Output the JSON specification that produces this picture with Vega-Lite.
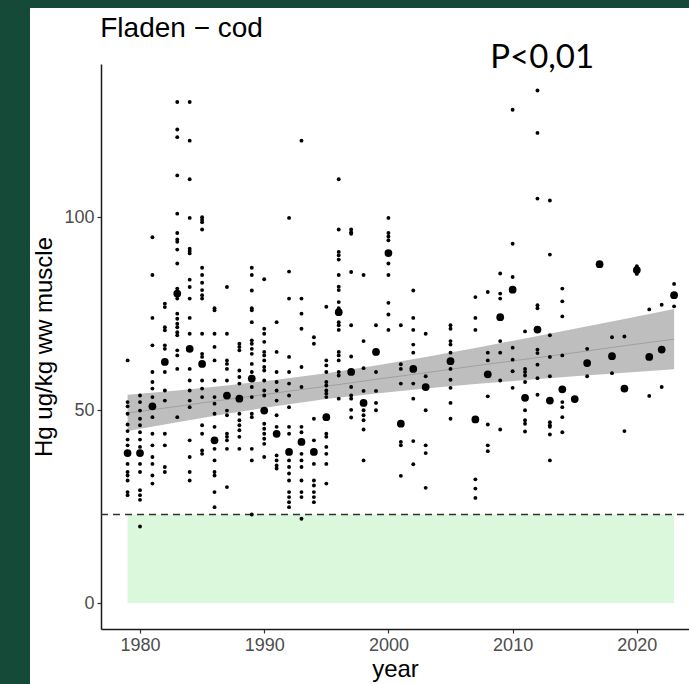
{
"$schema": "https://vega.github.io/schema/vega-lite/v6.json",
"width": 659,
"height": 676,
"autosize": {"type": "none"},
"padding": {"left": 30, "top": 8, "right": 0, "bottom": 0},
"background": "#154a38",
"view": {"fill": "white", "stroke": null},
"config": {"font": "Liberation Sans",
 "axis": {"grid": false, "domainColor": "#1a1a1a", "domainWidth": 1.5, "tickColor": "#333333", "tickWidth": 1.2, "tickSize": 4, "labelFontSize": 18, "labelColor": "#4d4d4d", "labelFont": "Liberation Sans", "titleFontSize": 24, "titleFontWeight": "normal", "titleColor": "black", "titleFont": "Liberation Sans", "labelPadding": 3}},
"datasets": {
 "zone": [{"x0": 1979, "x1": 2023, "y0": 0, "y1": 23}],
 "band": [
  {"year": 1979, "lo": 44.6, "hi": 54.0, "fit": 49.3},
  {"year": 1983, "lo": 46.9, "hi": 55.1, "fit": 51.0},
  {"year": 1987, "lo": 49.1, "hi": 56.4, "fit": 52.8},
  {"year": 1991, "lo": 51.1, "hi": 57.9, "fit": 54.5},
  {"year": 1995, "lo": 52.9, "hi": 59.6, "fit": 56.2},
  {"year": 1999, "lo": 54.3, "hi": 61.6, "fit": 58.0},
  {"year": 2003, "lo": 55.6, "hi": 63.8, "fit": 59.7},
  {"year": 2007, "lo": 56.8, "hi": 66.1, "fit": 61.5},
  {"year": 2011, "lo": 57.8, "hi": 68.6, "fit": 63.2},
  {"year": 2015, "lo": 58.8, "hi": 71.1, "fit": 64.9},
  {"year": 2019, "lo": 59.7, "hi": 73.6, "fit": 66.7},
  {"year": 2023, "lo": 60.6, "hi": 76.2, "fit": 68.4}
 ],
 "points": [
  {"year":1979,"hg":62.9,"k":"s"},{"year":1979,"hg":52.1,"k":"s"},{"year":1979,"hg":51.0,"k":"s"},{"year":1979,"hg":49.1,"k":"s"},{"year":1979,"hg":46.3,"k":"s"},{"year":1979,"hg":44.6,"k":"s"},{"year":1979,"hg":42.4,"k":"s"},{"year":1979,"hg":40.9,"k":"s"},{"year":1979,"hg":36.1,"k":"s"},{"year":1979,"hg":34.0,"k":"s"},{"year":1979,"hg":33.1,"k":"s"},{"year":1979,"hg":31.8,"k":"s"},{"year":1979,"hg":28.8,"k":"s"},{"year":1979,"hg":28.0,"k":"s"},{"year":1979,"hg":38.9,"k":"m"},
  {"year":1980,"hg":53.8,"k":"s"},{"year":1980,"hg":52.1,"k":"s"},{"year":1980,"hg":49.9,"k":"s"},{"year":1980,"hg":47.8,"k":"s"},{"year":1980,"hg":46.1,"k":"s"},{"year":1980,"hg":44.3,"k":"s"},{"year":1980,"hg":42.4,"k":"s"},{"year":1980,"hg":40.5,"k":"s"},{"year":1980,"hg":36.1,"k":"s"},{"year":1980,"hg":34.0,"k":"s"},{"year":1980,"hg":29.3,"k":"s"},{"year":1980,"hg":28.0,"k":"s"},{"year":1980,"hg":26.8,"k":"s"},{"year":1980,"hg":19.9,"k":"s"},{"year":1980,"hg":38.9,"k":"m"},
  {"year":1981,"hg":94.8,"k":"s"},{"year":1981,"hg":85.0,"k":"s"},{"year":1981,"hg":73.9,"k":"s"},{"year":1981,"hg":66.8,"k":"s"},{"year":1981,"hg":59.9,"k":"s"},{"year":1981,"hg":57.3,"k":"s"},{"year":1981,"hg":55.6,"k":"s"},{"year":1981,"hg":53.4,"k":"s"},{"year":1981,"hg":48.2,"k":"s"},{"year":1981,"hg":43.9,"k":"s"},{"year":1981,"hg":40.9,"k":"s"},{"year":1981,"hg":37.9,"k":"s"},{"year":1981,"hg":36.1,"k":"s"},{"year":1981,"hg":33.1,"k":"s"},{"year":1981,"hg":31.0,"k":"s"},{"year":1981,"hg":51.0,"k":"m"},
  {"year":1982,"hg":77.6,"k":"s"},{"year":1982,"hg":76.7,"k":"s"},{"year":1982,"hg":71.5,"k":"s"},{"year":1982,"hg":70.7,"k":"s"},{"year":1982,"hg":66.8,"k":"s"},{"year":1982,"hg":65.9,"k":"s"},{"year":1982,"hg":59.9,"k":"s"},{"year":1982,"hg":55.1,"k":"s"},{"year":1982,"hg":52.5,"k":"s"},{"year":1982,"hg":43.9,"k":"s"},{"year":1982,"hg":40.9,"k":"s"},{"year":1982,"hg":35.3,"k":"s"},{"year":1982,"hg":34.0,"k":"s"},{"year":1982,"hg":62.5,"k":"m"},
  {"year":1983,"hg":129.8,"k":"s"},{"year":1983,"hg":122.7,"k":"s"},{"year":1983,"hg":120.7,"k":"s"},{"year":1983,"hg":110.8,"k":"s"},{"year":1983,"hg":100.9,"k":"s"},{"year":1983,"hg":95.9,"k":"s"},{"year":1983,"hg":94.2,"k":"s"},{"year":1983,"hg":93.6,"k":"s"},{"year":1983,"hg":91.6,"k":"s"},{"year":1983,"hg":88.0,"k":"s"},{"year":1983,"hg":81.5,"k":"s"},{"year":1983,"hg":78.9,"k":"s"},{"year":1983,"hg":75.0,"k":"s"},{"year":1983,"hg":73.7,"k":"s"},{"year":1983,"hg":72.4,"k":"s"},{"year":1983,"hg":71.5,"k":"s"},{"year":1983,"hg":70.2,"k":"s"},{"year":1983,"hg":69.4,"k":"s"},{"year":1983,"hg":65.5,"k":"s"},{"year":1983,"hg":64.2,"k":"s"},{"year":1983,"hg":60.7,"k":"s"},{"year":1983,"hg":48.2,"k":"s"},{"year":1983,"hg":80.2,"k":"m"},
  {"year":1984,"hg":129.8,"k":"s"},{"year":1984,"hg":119.8,"k":"s"},{"year":1984,"hg":109.8,"k":"s"},{"year":1984,"hg":99.8,"k":"s"},{"year":1984,"hg":91.8,"k":"s"},{"year":1984,"hg":91.2,"k":"s"},{"year":1984,"hg":90.6,"k":"s"},{"year":1984,"hg":83.8,"k":"s"},{"year":1984,"hg":81.9,"k":"s"},{"year":1984,"hg":78.9,"k":"s"},{"year":1984,"hg":73.9,"k":"s"},{"year":1984,"hg":69.8,"k":"s"},{"year":1984,"hg":60.7,"k":"s"},{"year":1984,"hg":57.7,"k":"s"},{"year":1984,"hg":55.1,"k":"s"},{"year":1984,"hg":52.5,"k":"s"},{"year":1984,"hg":50.8,"k":"s"},{"year":1984,"hg":42.2,"k":"s"},{"year":1984,"hg":37.9,"k":"s"},{"year":1984,"hg":34.0,"k":"s"},{"year":1984,"hg":31.8,"k":"s"},{"year":1984,"hg":65.9,"k":"m"},
  {"year":1985,"hg":100.0,"k":"s"},{"year":1985,"hg":99.3,"k":"s"},{"year":1985,"hg":98.7,"k":"s"},{"year":1985,"hg":96.8,"k":"s"},{"year":1985,"hg":86.9,"k":"s"},{"year":1985,"hg":85.0,"k":"s"},{"year":1985,"hg":83.0,"k":"s"},{"year":1985,"hg":81.1,"k":"s"},{"year":1985,"hg":79.8,"k":"s"},{"year":1985,"hg":78.9,"k":"s"},{"year":1985,"hg":69.8,"k":"s"},{"year":1985,"hg":64.6,"k":"s"},{"year":1985,"hg":63.8,"k":"s"},{"year":1985,"hg":57.7,"k":"s"},{"year":1985,"hg":55.6,"k":"s"},{"year":1985,"hg":53.4,"k":"s"},{"year":1985,"hg":46.1,"k":"s"},{"year":1985,"hg":43.9,"k":"s"},{"year":1985,"hg":39.6,"k":"s"},{"year":1985,"hg":38.7,"k":"s"},{"year":1985,"hg":62.0,"k":"m"},
  {"year":1986,"hg":76.4,"k":"s"},{"year":1986,"hg":75.9,"k":"s"},{"year":1986,"hg":69.8,"k":"s"},{"year":1986,"hg":66.4,"k":"s"},{"year":1986,"hg":62.9,"k":"s"},{"year":1986,"hg":57.7,"k":"s"},{"year":1986,"hg":53.4,"k":"s"},{"year":1986,"hg":51.7,"k":"s"},{"year":1986,"hg":49.1,"k":"s"},{"year":1986,"hg":45.7,"k":"s"},{"year":1986,"hg":40.0,"k":"s"},{"year":1986,"hg":37.0,"k":"s"},{"year":1986,"hg":34.0,"k":"s"},{"year":1986,"hg":33.1,"k":"s"},{"year":1986,"hg":28.8,"k":"s"},{"year":1986,"hg":24.9,"k":"s"},{"year":1986,"hg":42.2,"k":"m"},
  {"year":1987,"hg":81.9,"k":"s"},{"year":1987,"hg":69.8,"k":"s"},{"year":1987,"hg":62.9,"k":"s"},{"year":1987,"hg":62.0,"k":"s"},{"year":1987,"hg":60.7,"k":"s"},{"year":1987,"hg":57.7,"k":"s"},{"year":1987,"hg":49.9,"k":"s"},{"year":1987,"hg":48.7,"k":"s"},{"year":1987,"hg":43.9,"k":"s"},{"year":1987,"hg":43.1,"k":"s"},{"year":1987,"hg":42.2,"k":"s"},{"year":1987,"hg":40.0,"k":"s"},{"year":1987,"hg":30.1,"k":"s"},{"year":1987,"hg":53.8,"k":"m"},
  {"year":1988,"hg":67.2,"k":"s"},{"year":1988,"hg":66.4,"k":"s"},{"year":1988,"hg":65.5,"k":"s"},{"year":1988,"hg":60.3,"k":"s"},{"year":1988,"hg":58.6,"k":"s"},{"year":1988,"hg":56.9,"k":"s"},{"year":1988,"hg":49.1,"k":"s"},{"year":1988,"hg":47.4,"k":"s"},{"year":1988,"hg":46.1,"k":"s"},{"year":1988,"hg":44.8,"k":"s"},{"year":1988,"hg":43.1,"k":"s"},{"year":1988,"hg":40.0,"k":"s"},{"year":1988,"hg":53.0,"k":"m"},
  {"year":1989,"hg":86.9,"k":"s"},{"year":1989,"hg":85.0,"k":"s"},{"year":1989,"hg":81.0,"k":"s"},{"year":1989,"hg":76.4,"k":"s"},{"year":1989,"hg":75.9,"k":"s"},{"year":1989,"hg":72.8,"k":"s"},{"year":1989,"hg":68.1,"k":"s"},{"year":1989,"hg":67.2,"k":"s"},{"year":1989,"hg":65.9,"k":"s"},{"year":1989,"hg":64.6,"k":"s"},{"year":1989,"hg":62.0,"k":"s"},{"year":1989,"hg":59.9,"k":"s"},{"year":1989,"hg":56.0,"k":"s"},{"year":1989,"hg":53.4,"k":"s"},{"year":1989,"hg":49.1,"k":"s"},{"year":1989,"hg":48.2,"k":"s"},{"year":1989,"hg":40.0,"k":"s"},{"year":1989,"hg":37.0,"k":"s"},{"year":1989,"hg":23.0,"k":"s"},{"year":1989,"hg":58.2,"k":"m"},
  {"year":1990,"hg":83.9,"k":"s"},{"year":1990,"hg":71.1,"k":"s"},{"year":1990,"hg":69.8,"k":"s"},{"year":1990,"hg":67.7,"k":"s"},{"year":1990,"hg":65.1,"k":"s"},{"year":1990,"hg":64.2,"k":"s"},{"year":1990,"hg":62.9,"k":"s"},{"year":1990,"hg":61.2,"k":"s"},{"year":1990,"hg":60.3,"k":"s"},{"year":1990,"hg":57.7,"k":"s"},{"year":1990,"hg":55.1,"k":"s"},{"year":1990,"hg":53.8,"k":"s"},{"year":1990,"hg":46.5,"k":"s"},{"year":1990,"hg":45.2,"k":"s"},{"year":1990,"hg":43.9,"k":"s"},{"year":1990,"hg":42.6,"k":"s"},{"year":1990,"hg":41.3,"k":"s"},{"year":1990,"hg":37.9,"k":"s"},{"year":1990,"hg":49.9,"k":"m"},
  {"year":1991,"hg":72.8,"k":"s"},{"year":1991,"hg":65.1,"k":"s"},{"year":1991,"hg":59.9,"k":"s"},{"year":1991,"hg":57.3,"k":"s"},{"year":1991,"hg":55.1,"k":"s"},{"year":1991,"hg":52.5,"k":"s"},{"year":1991,"hg":48.7,"k":"s"},{"year":1991,"hg":45.7,"k":"s"},{"year":1991,"hg":38.3,"k":"s"},{"year":1991,"hg":37.0,"k":"s"},{"year":1991,"hg":35.7,"k":"s"},{"year":1991,"hg":34.9,"k":"s"},{"year":1991,"hg":43.9,"k":"m"},
  {"year":1992,"hg":99.8,"k":"s"},{"year":1992,"hg":85.9,"k":"s"},{"year":1992,"hg":78.9,"k":"s"},{"year":1992,"hg":63.8,"k":"s"},{"year":1992,"hg":59.9,"k":"s"},{"year":1992,"hg":56.9,"k":"s"},{"year":1992,"hg":53.8,"k":"s"},{"year":1992,"hg":50.8,"k":"s"},{"year":1992,"hg":45.7,"k":"s"},{"year":1992,"hg":43.9,"k":"s"},{"year":1992,"hg":37.0,"k":"s"},{"year":1992,"hg":35.3,"k":"s"},{"year":1992,"hg":33.6,"k":"s"},{"year":1992,"hg":31.8,"k":"s"},{"year":1992,"hg":28.8,"k":"s"},{"year":1992,"hg":27.5,"k":"s"},{"year":1992,"hg":26.2,"k":"s"},{"year":1992,"hg":24.9,"k":"s"},{"year":1992,"hg":39.2,"k":"m"},
  {"year":1993,"hg":119.8,"k":"s"},{"year":1993,"hg":78.9,"k":"s"},{"year":1993,"hg":75.0,"k":"s"},{"year":1993,"hg":71.1,"k":"s"},{"year":1993,"hg":61.2,"k":"s"},{"year":1993,"hg":56.0,"k":"s"},{"year":1993,"hg":45.7,"k":"s"},{"year":1993,"hg":44.3,"k":"s"},{"year":1993,"hg":38.7,"k":"s"},{"year":1993,"hg":37.0,"k":"s"},{"year":1993,"hg":35.3,"k":"s"},{"year":1993,"hg":31.8,"k":"s"},{"year":1993,"hg":28.8,"k":"s"},{"year":1993,"hg":27.5,"k":"s"},{"year":1993,"hg":21.9,"k":"s"},{"year":1993,"hg":41.8,"k":"m"},
  {"year":1994,"hg":68.9,"k":"s"},{"year":1994,"hg":67.2,"k":"s"},{"year":1994,"hg":47.8,"k":"s"},{"year":1994,"hg":42.2,"k":"s"},{"year":1994,"hg":36.1,"k":"s"},{"year":1994,"hg":31.8,"k":"s"},{"year":1994,"hg":30.5,"k":"s"},{"year":1994,"hg":28.8,"k":"s"},{"year":1994,"hg":27.5,"k":"s"},{"year":1994,"hg":26.2,"k":"s"},{"year":1994,"hg":39.2,"k":"m"},
  {"year":1995,"hg":76.8,"k":"s"},{"year":1995,"hg":62.9,"k":"s"},{"year":1995,"hg":61.6,"k":"s"},{"year":1995,"hg":59.9,"k":"s"},{"year":1995,"hg":57.3,"k":"s"},{"year":1995,"hg":56.4,"k":"s"},{"year":1995,"hg":55.1,"k":"s"},{"year":1995,"hg":54.3,"k":"s"},{"year":1995,"hg":53.4,"k":"s"},{"year":1995,"hg":43.9,"k":"s"},{"year":1995,"hg":43.1,"k":"s"},{"year":1995,"hg":40.5,"k":"s"},{"year":1995,"hg":38.7,"k":"s"},{"year":1995,"hg":36.1,"k":"s"},{"year":1995,"hg":31.0,"k":"s"},{"year":1995,"hg":48.2,"k":"m"},
  {"year":1996,"hg":109.8,"k":"s"},{"year":1996,"hg":96.8,"k":"s"},{"year":1996,"hg":91.0,"k":"s"},{"year":1996,"hg":90.1,"k":"s"},{"year":1996,"hg":89.0,"k":"s"},{"year":1996,"hg":85.0,"k":"s"},{"year":1996,"hg":82.0,"k":"s"},{"year":1996,"hg":81.1,"k":"s"},{"year":1996,"hg":78.0,"k":"s"},{"year":1996,"hg":76.4,"k":"s"},{"year":1996,"hg":72.8,"k":"s"},{"year":1996,"hg":72.0,"k":"s"},{"year":1996,"hg":70.8,"k":"s"},{"year":1996,"hg":65.1,"k":"s"},{"year":1996,"hg":64.2,"k":"s"},{"year":1996,"hg":62.9,"k":"s"},{"year":1996,"hg":59.9,"k":"s"},{"year":1996,"hg":59.0,"k":"s"},{"year":1996,"hg":53.0,"k":"s"},{"year":1996,"hg":75.4,"k":"m"},
  {"year":1997,"hg":96.8,"k":"s"},{"year":1997,"hg":96.1,"k":"s"},{"year":1997,"hg":95.7,"k":"s"},{"year":1997,"hg":85.8,"k":"s"},{"year":1997,"hg":72.0,"k":"s"},{"year":1997,"hg":63.9,"k":"s"},{"year":1997,"hg":56.0,"k":"s"},{"year":1997,"hg":53.8,"k":"s"},{"year":1997,"hg":53.0,"k":"s"},{"year":1997,"hg":50.1,"k":"s"},{"year":1997,"hg":48.1,"k":"s"},{"year":1997,"hg":59.9,"k":"m"},
  {"year":1998,"hg":85.0,"k":"s"},{"year":1998,"hg":67.9,"k":"s"},{"year":1998,"hg":60.9,"k":"s"},{"year":1998,"hg":55.0,"k":"s"},{"year":1998,"hg":50.0,"k":"s"},{"year":1998,"hg":48.7,"k":"s"},{"year":1998,"hg":47.4,"k":"s"},{"year":1998,"hg":45.0,"k":"s"},{"year":1998,"hg":37.0,"k":"s"},{"year":1998,"hg":51.9,"k":"m"},
  {"year":1999,"hg":72.0,"k":"s"},{"year":1999,"hg":59.9,"k":"s"},{"year":1999,"hg":55.0,"k":"s"},{"year":1999,"hg":51.9,"k":"s"},{"year":1999,"hg":50.0,"k":"s"},{"year":1999,"hg":65.1,"k":"m"},
  {"year":2000,"hg":99.8,"k":"s"},{"year":2000,"hg":95.9,"k":"s"},{"year":2000,"hg":95.0,"k":"s"},{"year":2000,"hg":94.0,"k":"s"},{"year":2000,"hg":88.0,"k":"s"},{"year":2000,"hg":85.0,"k":"s"},{"year":2000,"hg":77.8,"k":"s"},{"year":2000,"hg":74.8,"k":"s"},{"year":2000,"hg":70.8,"k":"s"},{"year":2000,"hg":90.7,"k":"m"},
  {"year":2001,"hg":72.0,"k":"s"},{"year":2001,"hg":61.9,"k":"s"},{"year":2001,"hg":60.7,"k":"s"},{"year":2001,"hg":56.9,"k":"s"},{"year":2001,"hg":41.8,"k":"s"},{"year":2001,"hg":40.9,"k":"s"},{"year":2001,"hg":33.0,"k":"s"},{"year":2001,"hg":46.5,"k":"m"},
  {"year":2002,"hg":81.0,"k":"s"},{"year":2002,"hg":73.9,"k":"s"},{"year":2002,"hg":70.8,"k":"s"},{"year":2002,"hg":67.0,"k":"s"},{"year":2002,"hg":64.9,"k":"s"},{"year":2002,"hg":56.9,"k":"s"},{"year":2002,"hg":53.0,"k":"s"},{"year":2002,"hg":42.0,"k":"s"},{"year":2002,"hg":36.0,"k":"s"},{"year":2002,"hg":60.7,"k":"m"},
  {"year":2003,"hg":69.8,"k":"s"},{"year":2003,"hg":58.8,"k":"s"},{"year":2003,"hg":50.0,"k":"s"},{"year":2003,"hg":40.9,"k":"s"},{"year":2003,"hg":38.9,"k":"s"},{"year":2003,"hg":29.9,"k":"s"},{"year":2003,"hg":56.0,"k":"m"},
  {"year":2005,"hg":72.0,"k":"s"},{"year":2005,"hg":71.1,"k":"s"},{"year":2005,"hg":67.9,"k":"s"},{"year":2005,"hg":67.0,"k":"s"},{"year":2005,"hg":64.9,"k":"s"},{"year":2005,"hg":60.7,"k":"s"},{"year":2005,"hg":57.9,"k":"s"},{"year":2005,"hg":55.8,"k":"s"},{"year":2005,"hg":51.9,"k":"s"},{"year":2005,"hg":47.8,"k":"s"},{"year":2005,"hg":62.7,"k":"m"},
  {"year":2007,"hg":79.3,"k":"s"},{"year":2007,"hg":73.9,"k":"s"},{"year":2007,"hg":70.8,"k":"s"},{"year":2007,"hg":32.1,"k":"s"},{"year":2007,"hg":29.7,"k":"s"},{"year":2007,"hg":27.3,"k":"s"},{"year":2007,"hg":47.6,"k":"m"},
  {"year":2008,"hg":80.6,"k":"s"},{"year":2008,"hg":64.9,"k":"s"},{"year":2008,"hg":62.9,"k":"s"},{"year":2008,"hg":53.6,"k":"s"},{"year":2008,"hg":46.3,"k":"s"},{"year":2008,"hg":40.9,"k":"s"},{"year":2008,"hg":39.4,"k":"s"},{"year":2008,"hg":59.3,"k":"m"},
  {"year":2009,"hg":85.4,"k":"s"},{"year":2009,"hg":80.2,"k":"s"},{"year":2009,"hg":78.9,"k":"s"},{"year":2009,"hg":67.9,"k":"s"},{"year":2009,"hg":64.9,"k":"s"},{"year":2009,"hg":57.7,"k":"s"},{"year":2009,"hg":45.0,"k":"s"},{"year":2009,"hg":74.1,"k":"m"},
  {"year":2010,"hg":127.8,"k":"s"},{"year":2010,"hg":93.1,"k":"s"},{"year":2010,"hg":84.5,"k":"s"},{"year":2010,"hg":66.2,"k":"s"},{"year":2010,"hg":63.1,"k":"s"},{"year":2010,"hg":60.1,"k":"s"},{"year":2010,"hg":55.8,"k":"s"},{"year":2010,"hg":81.2,"k":"m"},
  {"year":2011,"hg":70.4,"k":"s"},{"year":2011,"hg":60.7,"k":"s"},{"year":2011,"hg":59.9,"k":"s"},{"year":2011,"hg":59.0,"k":"s"},{"year":2011,"hg":57.3,"k":"s"},{"year":2011,"hg":50.0,"k":"s"},{"year":2011,"hg":47.4,"k":"s"},{"year":2011,"hg":46.5,"k":"s"},{"year":2011,"hg":44.5,"k":"s"},{"year":2011,"hg":53.2,"k":"m"},
  {"year":2012,"hg":132.8,"k":"s"},{"year":2012,"hg":121.8,"k":"s"},{"year":2012,"hg":104.8,"k":"s"},{"year":2012,"hg":77.2,"k":"s"},{"year":2012,"hg":76.4,"k":"s"},{"year":2012,"hg":65.7,"k":"s"},{"year":2012,"hg":64.8,"k":"s"},{"year":2012,"hg":61.8,"k":"s"},{"year":2012,"hg":58.3,"k":"s"},{"year":2012,"hg":54.0,"k":"s"},{"year":2012,"hg":70.9,"k":"m"},
  {"year":2013,"hg":104.3,"k":"s"},{"year":2013,"hg":90.3,"k":"s"},{"year":2013,"hg":69.4,"k":"s"},{"year":2013,"hg":63.8,"k":"s"},{"year":2013,"hg":58.8,"k":"s"},{"year":2013,"hg":46.9,"k":"s"},{"year":2013,"hg":46.1,"k":"s"},{"year":2013,"hg":45.7,"k":"s"},{"year":2013,"hg":43.7,"k":"s"},{"year":2013,"hg":37.0,"k":"s"},{"year":2013,"hg":52.5,"k":"m"},
  {"year":2014,"hg":81.5,"k":"s"},{"year":2014,"hg":78.2,"k":"s"},{"year":2014,"hg":74.3,"k":"s"},{"year":2014,"hg":64.2,"k":"s"},{"year":2014,"hg":52.1,"k":"s"},{"year":2014,"hg":50.8,"k":"s"},{"year":2014,"hg":48.2,"k":"s"},{"year":2014,"hg":44.3,"k":"s"},{"year":2014,"hg":55.4,"k":"m"},
  {"year":2015,"hg":52.9,"k":"m"},
  {"year":2016,"hg":65.9,"k":"s"},{"year":2016,"hg":58.8,"k":"s"},{"year":2016,"hg":62.2,"k":"m"},
  {"year":2017,"hg":87.8,"k":"m"},
  {"year":2018,"hg":68.9,"k":"s"},{"year":2018,"hg":59.6,"k":"s"},{"year":2018,"hg":64.0,"k":"m"},
  {"year":2019,"hg":69.1,"k":"s"},{"year":2019,"hg":44.6,"k":"s"},{"year":2019,"hg":55.6,"k":"m"},
  {"year":2020,"hg":87.3,"k":"s"},{"year":2020,"hg":85.3,"k":"s"},{"year":2020,"hg":86.3,"k":"m"},
  {"year":2021,"hg":76.1,"k":"s"},{"year":2021,"hg":53.7,"k":"s"},{"year":2021,"hg":63.8,"k":"m"},
  {"year":2022,"hg":77.3,"k":"s"},{"year":2022,"hg":56.0,"k":"s"},{"year":2022,"hg":65.7,"k":"m"},
  {"year":2023,"hg":82.7,"k":"s"},{"year":2023,"hg":76.9,"k":"s"},{"year":2023,"hg":79.8,"k":"m"}
 ]
},
"layer": [
 {"data": {"name": "zone"}, "mark": {"type": "rect", "color": "#dcf8dc"},
  "encoding": {
   "x": {"field": "x0", "type": "quantitative", "title": "year", "scale": {"domain": [1976.86, 2024.2], "range": [71, 659], "nice": false, "zero": false}, "axis": {"values": [1980, 1990, 2000, 2010, 2020], "format": "d", "offset": -55, "titlePadding": 3}},
   "x2": {"field": "x1"},
   "y": {"field": "y0", "type": "quantitative", "title": "Hg ug/kg ww muscle", "scale": {"domain": [-6.65, 139.65], "range": [621, 56], "nice": false, "zero": false}, "axis": {"values": [0, 50, 100], "offset": -71, "titlePadding": 7}},
   "y2": {"field": "y1"}}},
 {"data": {"values": [{}]}, "mark": {"type": "rule", "strokeDash": [7, 5], "color": "#333333", "strokeWidth": 1.3},
  "encoding": {"x": {"datum": 1976.86, "type": "quantitative", "title": "year"}, "x2": {"datum": 2024.2}, "y": {"datum": 23, "type": "quantitative", "title": "Hg ug/kg ww muscle"}}},
 {"data": {"name": "band"}, "mark": {"type": "area", "color": "#bebebe", "opacity": 1},
  "encoding": {"x": {"field": "year", "type": "quantitative", "title": "year"}, "y": {"field": "lo", "type": "quantitative", "title": "Hg ug/kg ww muscle"}, "y2": {"field": "hi"}}},
 {"data": {"name": "band"}, "mark": {"type": "line", "color": "#a0a0a0", "strokeWidth": 1},
  "encoding": {"x": {"field": "year", "type": "quantitative", "title": "year"}, "y": {"field": "fit", "type": "quantitative", "title": "Hg ug/kg ww muscle"}}},
 {"data": {"name": "points"}, "mark": {"type": "circle", "color": "black", "opacity": 1},
  "encoding": {"x": {"field": "year", "type": "quantitative", "title": "year"}, "y": {"field": "hg", "type": "quantitative", "title": "Hg ug/kg ww muscle"},
   "size": {"field": "k", "type": "nominal", "scale": {"domain": ["s", "m"], "range": [15, 60]}, "legend": null}}},
 {"data": {"values": [{}]}, "mark": {"type": "text", "text": "Fladen − cod", "font": "Liberation Sans", "fontSize": 28, "align": "left", "baseline": "alphabetic", "color": "black"},
  "encoding": {"x": {"datum": 1976.8, "type": "quantitative", "title": "year"}, "y": {"datum": 146.6, "type": "quantitative", "title": "Hg ug/kg ww muscle"}}},
 {"data": {"values": [{}]}, "mark": {"type": "text", "text": "P<0,01", "font": "Lato", "fontSize": 33, "align": "left", "baseline": "alphabetic", "color": "black"},
  "encoding": {"x": {"datum": 2008.2, "type": "quantitative", "title": "year"}, "y": {"datum": 138.7, "type": "quantitative", "title": "Hg ug/kg ww muscle"}}}
]
}
